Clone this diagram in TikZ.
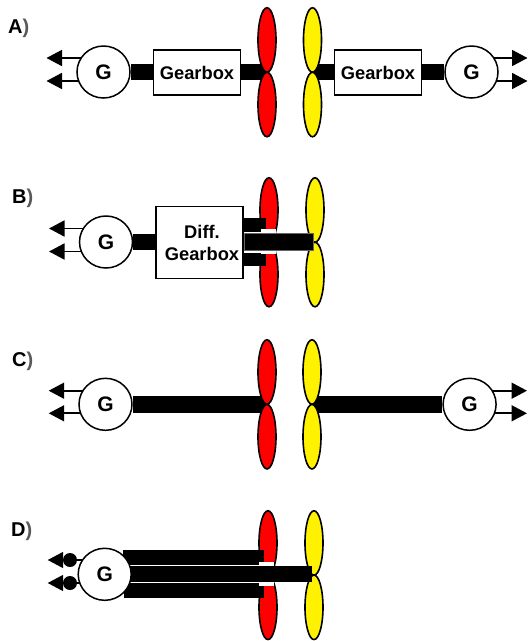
\documentclass[tikz,border=0pt]{standalone}
\usepackage{fontspec}
\setmainfont{Liberation Sans}
\usetikzlibrary{arrows.meta,shapes.geometric,backgrounds,calc}
\tikzset{
  x=1pt,y=-1pt,
  blade/.style={ellipse,draw=black,line width=1.6pt,minimum width=18pt,minimum height=64.5pt,inner sep=0pt},
  redblade/.style={blade,fill=red},
  yellowblade/.style={blade,fill=yellow},
  gen/.style={ellipse,draw=black,fill=white,line width=1.5pt,minimum width=53pt,minimum height=52pt,inner sep=0pt,font=\fontsize{21}{21}\selectfont\bfseries},
  gearbox/.style={rectangle,draw=black,fill=white,line width=1.5pt,inner sep=0pt,align=center,font=\fontsize{18.3}{22}\selectfont\bfseries},
  lbl/.style={anchor=west,inner sep=0pt,font=\fontsize{20}{20}\selectfont\bfseries},
  shaft/.style={line width=16.4pt,black},
  outarrow/.style={line width=1.7pt,-{Triangle[length=15.5pt,width=16pt]}},
  wire/.style={line width=1.7pt},
  gendot/.style={circle,fill=black,minimum size=14pt,inner sep=0pt}
}
\begin{document}
\begin{tikzpicture}
\useasboundingbox (0,0) rectangle (528,641);
% ---------- A
\node[lbl] (la) at (8,28) {A\textcolor{black!65}{)}};
\node[gen] (ga1) at (103.5,72) {G};
\node[gen] (ga2) at (471.5,72) {G};
\node[gearbox,minimum width=87pt,minimum height=45pt] (ba1) at (197,72.5) {Gearbox};
\node[gearbox,minimum width=87pt,minimum height=45pt] (ba2) at (378,72.5) {Gearbox};
\node[redblade] (ra1) at (267,40) {};
\node[redblade] (ra2) at (267,104.5) {};
\node[yellowblade] (ya1) at (312.5,40) {};
\node[yellowblade] (ya2) at (312.5,104.5) {};
\coordinate (ta1) at (46.5,58); \coordinate (ta2) at (46.5,81);
\coordinate (ta3) at (527.5,58); \coordinate (ta4) at (527.5,81);
\begin{scope}[on background layer]
  \draw[shaft] (ga1) -- (ga1 -| ba1.west);
  \draw[shaft] (ga1 -| ba1.east) -- (ga1 -| ra1.south);
  \draw[shaft] (ga2 -| ya1.south) -- (ga2 -| ba2.west);
  \draw[shaft] (ga2 -| ba2.east) -- (ga2);
  \draw[outarrow] (ga1 |- ta1) -- (ta1);
  \draw[outarrow] (ga1 |- ta2) -- (ta2);
  \draw[outarrow] (ga2 |- ta3) -- (ta3);
\end{scope}
\draw[outarrow] ($(ga2.east |- ta4)+(-3,0)$) -- (ta4);
% ---------- B
\node[lbl] (lb) at (12,198) {B\textcolor{black!65}{)}};
\node[gen] (gb) at (106,242) {G};
\node[gearbox,minimum width=87pt,minimum height=72pt] (bb) at (199.5,242.5) {\hspace*{5pt}Diff.\\\hspace*{5pt}Gearbox};
\node[redblade] (rb1) at (269,210) {};
\node[redblade] (rb2) at (269,274.5) {};
\node[yellowblade] (yb1) at (315,210) {};
\node[yellowblade] (yb2) at (315,274.5) {};
\coordinate (tb1) at (49,228.5); \coordinate (tb2) at (49,251.5);
\coordinate (ob1) at (265.7,225); \coordinate (ob2) at (265.7,259.5);
\begin{scope}[on background layer]
  \draw[shaft] (gb) -- (gb -| bb.west);
  \draw[outarrow] (gb |- tb1) -- (tb1);
  \draw[outarrow] (gb |- tb2) -- (tb2);
\end{scope}
\draw[line width=14.6pt] (bb.east |- ob1) -- (ob1);
\draw[line width=13pt] (bb.east |- ob2) -- (ob2);
\fill[white] (261,228.5) rectangle (276,233);
\fill[white] (261,250) rectangle (276,254);
\node[rectangle,fill=black,draw=black!60,line width=.5pt,minimum width=69pt,minimum height=16.5pt,inner sep=0pt] (ib) at (279,241.75) {};
% ---------- C
\node[lbl] (lc) at (12,361) {C\textcolor{black!65}{)}};
\node[gen] (gc1) at (105.5,404.3) {G};
\node[gen] (gc2) at (469.6,404.3) {G};
\node[redblade] (rc1) at (267,372) {};
\node[redblade] (rc2) at (267,436.7) {};
\node[yellowblade] (yc1) at (312,372) {};
\node[yellowblade] (yc2) at (312,436.7) {};
\coordinate (tc1) at (48.7,390.7); \coordinate (tc2) at (48.7,413.3);
\coordinate (tc3) at (527,390.7); \coordinate (tc4) at (527,413.3);
\begin{scope}[on background layer]
  \draw[shaft] (gc1) -- (gc1 -| rc1.south);
  \draw[shaft] (gc2 -| yc1.south) -- (gc2);
  \draw[outarrow] (gc1 |- tc1) -- (tc1);
  \draw[outarrow] (gc1 |- tc2) -- (tc2);
  \draw[outarrow] (gc2 |- tc3) -- (tc3);
\end{scope}
\draw[outarrow] ($(gc2.east |- tc4)+(-3,0)$) -- (tc4);
% ---------- D
\node[lbl] (ld) at (11,531) {D\textcolor{black!65}{)}};
\node[redblade] (rd1) at (268,543) {};
\node[redblade] (rd2) at (268,607.3) {};
\node[yellowblade] (yd1) at (314,543) {};
\node[yellowblade] (yd2) at (314,607.3) {};
\node[rectangle,fill=black,inner sep=0pt,minimum width=141.3pt,minimum height=15pt] (ud) at (193.7,557.5) {};
\node[rectangle,fill=black,inner sep=0pt,minimum width=140.3pt,minimum height=15pt] (ld2) at (194.2,590.2) {};
\fill[white] (259,561.5) rectangle (274,566);
\fill[white] (259,581.5) rectangle (274,586);
\node[rectangle,fill=black,inner sep=0pt,minimum width=190pt,minimum height=15.7pt] (md) at (216.7,573.8) {};
\node[gen] (gd) at (104.7,574.3) {G};
\node[gendot] (dd1) at (70,560) {};
\node[gendot] (dd2) at (70,583) {};
\coordinate (td1) at (47.7,560); \coordinate (td2) at (47.7,583);
\begin{scope}[on background layer]
  \draw[wire] (dd1) -- (gd |- dd1);
  \draw[wire] (dd2) -- (gd |- dd2);
\end{scope}
\draw[outarrow] (dd1) -- (td1);
\draw[outarrow] (dd2) -- (td2);
\end{tikzpicture}
\end{document}
